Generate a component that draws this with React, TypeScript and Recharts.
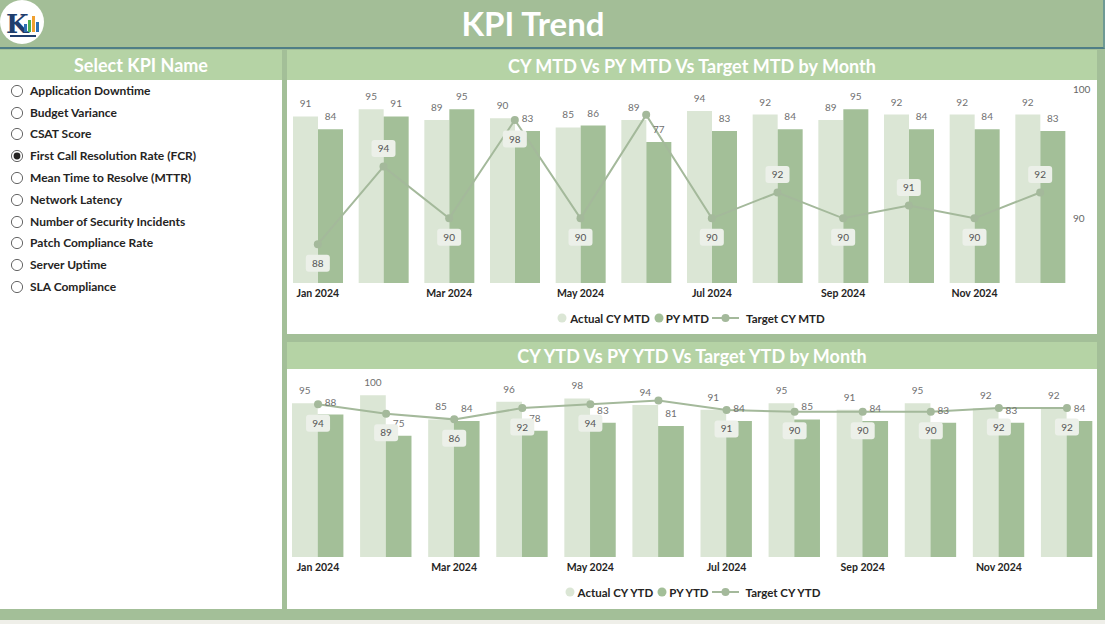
import React from 'react';
import { ComposedChart, Bar, Line, XAxis, YAxis, LabelList, Legend } from 'recharts';

const months = ['Jan 2024', 'Feb 2024', 'Mar 2024', 'Apr 2024', 'May 2024', 'Jun 2024', 'Jul 2024', 'Aug 2024', 'Sep 2024', 'Oct 2024', 'Nov 2024', 'Dec 2024'];
const kpiNames = ['Application Downtime', 'Budget Variance', 'CSAT Score', 'First Call Resolution Rate (FCR)', 'Mean Time to Resolve (MTTR)', 'Network Latency', 'Number of Security Incidents', 'Patch Compliance Rate', 'Server Uptime', 'SLA Compliance'];
const selectedKpi = 'First Call Resolution Rate (FCR)';

const actualCyMtd = [91, 95, 89, 90, 85, 89, 94, 92, 89, 92, 92, 92];
const pyMtd = [84, 91, 95, 83, 86, 77, 83, 84, 95, 84, 84, 83];
const targetCyMtd = [88, 94, 90, 97.6, 90, 98, 90, 92, 90, 91, 90, 92];

const actualCyYtd = [95, 100, 85, 96, 98, 94, 91, 95, 91, 95, 92, 92];
const pyYtd = [88, 75, 84, 78, 83, 81, 84, 85, 84, 83, 83, 84];
const targetCyYtd = [94, 89, 86, 92, 94, 96, 91, 90, 90, 90, 92, 92];

const mtdTargetTicks = [90, 100];
const hiddenTargetLabels = ['Jun 2024'];

const LIGHT = '#dbe6d5';
const DARK = '#a3bf98';
const LINE = '#a4b99b';
const BAND = '#b5d3a5';
const BG = '#a3bf98';
const FONT = 'Lato, "Open Sans", sans-serif';

const mtdData = months.map((m, i) => ({ month: m, actual: actualCyMtd[i], py: pyMtd[i], target: targetCyMtd[i] }));
const ytdData = months.map((m, i) => ({ month: m, actual: actualCyYtd[i], py: pyYtd[i], target: targetCyYtd[i] }));

const makeTargetLabel = (values: number[], mode: 'auto' | 'below') => (props: any) => {
  const { x, y, value, index } = props;
  if (x == null || y == null) return null;
  if (hiddenTargetLabels.includes(months[index])) return null;
  let above = false;
  if (mode === 'auto') {
    const prev = values[index - 1];
    const next = values[index + 1];
    const isPeak = (prev === undefined || value > prev) && (next === undefined || value > next);
    above = isPeak && value < 96;
  }
  const cy = above ? y - 18 : y + 19;
  return (
    <g>
      <rect x={x - 12} y={cy - 8.5} width={24} height={17} rx={3} fill="#ecf0e9" />
      <text x={x} y={cy} dy="0.35em" textAnchor="middle" fontSize={10} fill="#555" fontFamily={FONT}>
        {Math.round(value)}
      </text>
    </g>
  );
};

const makeLegend = (labels: string[]) => () => (
  <div style={{ display: 'flex', justifyContent: 'center', alignItems: 'center', height: 22, fontFamily: FONT, fontWeight: 700, fontSize: 11.5, color: '#252423' }}>
    <svg width={10} height={10} style={{ marginRight: 3 }}><circle cx={5} cy={5} r={4.5} fill={LIGHT} /></svg>
    <span style={{ marginRight: 4 }}>{labels[0]}</span>
    <svg width={10} height={10} style={{ marginRight: 2 }}><circle cx={5} cy={5} r={4.5} fill={DARK} /></svg>
    <span style={{ marginRight: 3 }}>{labels[1]}</span>
    <svg width={27} height={10} style={{ marginRight: 7 }}><line x1={0} y1={5} x2={27} y2={5} stroke={LINE} strokeWidth={2} /><circle cx={13.5} cy={5} r={4} fill={LINE} /></svg>
    <span>{labels[2]}</span>
  </div>
);

const xTick = { fontSize: 10.5, fontWeight: 700, fill: '#252423', fontFamily: FONT };
const barLabelStyle = { fontSize: 10, fill: '#707070', fontFamily: FONT };

function Logo() {
  return (
    <svg width={46} height={46} style={{ position: 'absolute', left: 0, top: 0 }}>
      <circle cx={22} cy={22} r={22} fill="#ffffff" />
      <text x={6} y={33} fontSize={26} fontWeight={700} fill="#1f3e6e" fontFamily="DejaVu Serif, serif">K</text>
      <rect x={24} y={24} width={3} height={8} fill="#2d6fb3" />
      <rect x={28} y={20} width={3} height={12} fill="#4caf50" />
      <rect x={32} y={16} width={3} height={16} fill="#f0a030" />
      <rect x={36} y={22} width={3} height={10} fill="#2d6fb3" />
      <rect x={10} y={35} width={26} height={2} fill="#1f3e6e" />
    </svg>
  );
}

function Radio({ checked }: { checked: boolean }) {
  return (
    <svg width={14} height={14} style={{ position: 'absolute', left: 10, top: -7 }}>
      <circle cx={7} cy={7} r={5.6} fill="#fff" stroke="#666" strokeWidth={1} />
      {checked && <circle cx={7} cy={7} r={3.4} fill="#252423" />}
    </svg>
  );
}

export default function App() {
  return (
    <div style={{ position: 'fixed', left: 0, top: 0, width: 1105, height: 624, background: BG, fontFamily: FONT, overflow: 'hidden' }}>
      {/* Header */}
      <div style={{ position: 'absolute', left: 0, top: 0, width: 1103, height: 47, background: '#a3be97', borderBottom: '2px solid #4f7e86', borderRight: '2px solid #6f9a94' }} />
      <div style={{ position: 'absolute', left: 0, top: 0, width: 1066, height: 47, lineHeight: '47px', textAlign: 'center', color: '#ffffff', fontWeight: 700, fontSize: 33 }}>KPI Trend</div>
      <Logo />

      {/* Left panel */}
      <div style={{ position: 'absolute', left: 0, top: 50, width: 282, height: 30, background: BAND, color: '#fff', fontWeight: 700, fontSize: 18, lineHeight: '31px', textAlign: 'center' }}>Select KPI Name</div>
      <div style={{ position: 'absolute', left: 0, top: 80, width: 282, height: 529, background: '#fff' }}>
        {kpiNames.map((k, i) => (
          <div key={k} style={{ position: 'absolute', left: 0, top: 10.7 + i * 21.8, width: 282, height: 0 }}>
            <Radio checked={k === selectedKpi} />
            <div style={{ position: 'absolute', left: 30, top: -9, lineHeight: '18px', fontSize: 12, fontWeight: 700, color: '#252423', whiteSpace: 'nowrap' }}>{k}</div>
          </div>
        ))}
      </div>

      {/* Top card */}
      <div style={{ position: 'absolute', left: 287, top: 50, width: 810, height: 30, background: BAND, color: '#fff', fontWeight: 700, fontSize: 18, lineHeight: '33px', textAlign: 'center' }}>CY MTD Vs PY MTD Vs Target MTD by Month</div>
      <div style={{ position: 'absolute', left: 287, top: 80, width: 810, height: 254, background: '#fff' }} />

      {/* Bottom card */}
      <div style={{ position: 'absolute', left: 287, top: 342, width: 810, height: 27, background: BAND, color: '#fff', fontWeight: 700, fontSize: 18, lineHeight: '28px', textAlign: 'center' }}>CY YTD Vs PY YTD Vs Target YTD by Month</div>
      <div style={{ position: 'absolute', left: 287, top: 369, width: 810, height: 240, background: '#fff' }} />

      {/* bottom strip */}
      <div style={{ position: 'absolute', left: 0, top: 620, width: 1105, height: 4, background: '#efefe9' }} />

      <div style={{ position: 'absolute', left: 284, top: 80, width: 813, height: 253 }}>
        <ComposedChart width={813} height={253} data={mtdData} margin={{ top: 9, right: 0, bottom: 4, left: 1 }} barGap={0}>
          <XAxis dataKey="month" interval={1} tickLine={false} axisLine={false} tickSize={0} tickMargin={7} height={24} tick={xTick} />
          <YAxis yAxisId="left" hide domain={[0, 106]} />
          <YAxis yAxisId="right" orientation="right" domain={[85, 100]} ticks={mtdTargetTicks} width={24} tickLine={false} axisLine={false} tickSize={0} tickMargin={0} tick={{ fontSize: 10, fill: '#666', fontFamily: FONT }} />
          <Legend verticalAlign="bottom" height={22} content={makeLegend(['Actual CY MTD', 'PY MTD', 'Target CY MTD'])} />
          <Bar yAxisId="left" dataKey="actual" name="Actual CY MTD" fill={LIGHT} barSize={25} isAnimationActive={false}>
            <LabelList dataKey="actual" position="top" offset={9} style={barLabelStyle} />
          </Bar>
          <Bar yAxisId="left" dataKey="py" name="PY MTD" fill={DARK} barSize={25} isAnimationActive={false}>
            <LabelList dataKey="py" position="top" offset={9} style={barLabelStyle} />
          </Bar>
          <Line yAxisId="right" dataKey="target" name="Target CY MTD" stroke={LINE} strokeWidth={2} dot={{ r: 4, fill: LINE, stroke: LINE, strokeWidth: 0 }} activeDot={false} isAnimationActive={false}>
            <LabelList dataKey="target" content={makeTargetLabel(targetCyMtd, 'auto')} />
          </Line>
        </ComposedChart>
      </div>

      <div style={{ position: 'absolute', left: 284, top: 369, width: 817, height: 240 }}>
        <ComposedChart width={817} height={240} data={ytdData} margin={{ top: 10, right: 0, bottom: 6, left: 0 }} barGap={0}>
          <XAxis dataKey="month" interval={1} tickLine={false} axisLine={false} tickSize={0} tickMargin={7} height={24} tick={xTick} />
          <YAxis yAxisId="left" hide domain={[0, 110]} />
          <YAxis yAxisId="right" orientation="right" hide domain={[12.7, 107.5]} />
          <Legend verticalAlign="bottom" height={22} content={makeLegend(['Actual CY YTD', 'PY YTD', 'Target CY YTD'])} />
          <Bar yAxisId="left" dataKey="actual" name="Actual CY YTD" fill={LIGHT} barSize={25.7} isAnimationActive={false}>
            <LabelList dataKey="actual" position="top" offset={9} style={barLabelStyle} />
          </Bar>
          <Bar yAxisId="left" dataKey="py" name="PY YTD" fill={DARK} barSize={25.7} isAnimationActive={false}>
            <LabelList dataKey="py" position="top" offset={9} style={barLabelStyle} />
          </Bar>
          <Line yAxisId="right" dataKey="target" name="Target CY YTD" stroke={LINE} strokeWidth={2} dot={{ r: 4, fill: LINE, stroke: LINE, strokeWidth: 0 }} activeDot={false} isAnimationActive={false}>
            <LabelList dataKey="target" content={makeTargetLabel(targetCyYtd, 'below')} />
          </Line>
        </ComposedChart>
      </div>
    </div>
  );
}
